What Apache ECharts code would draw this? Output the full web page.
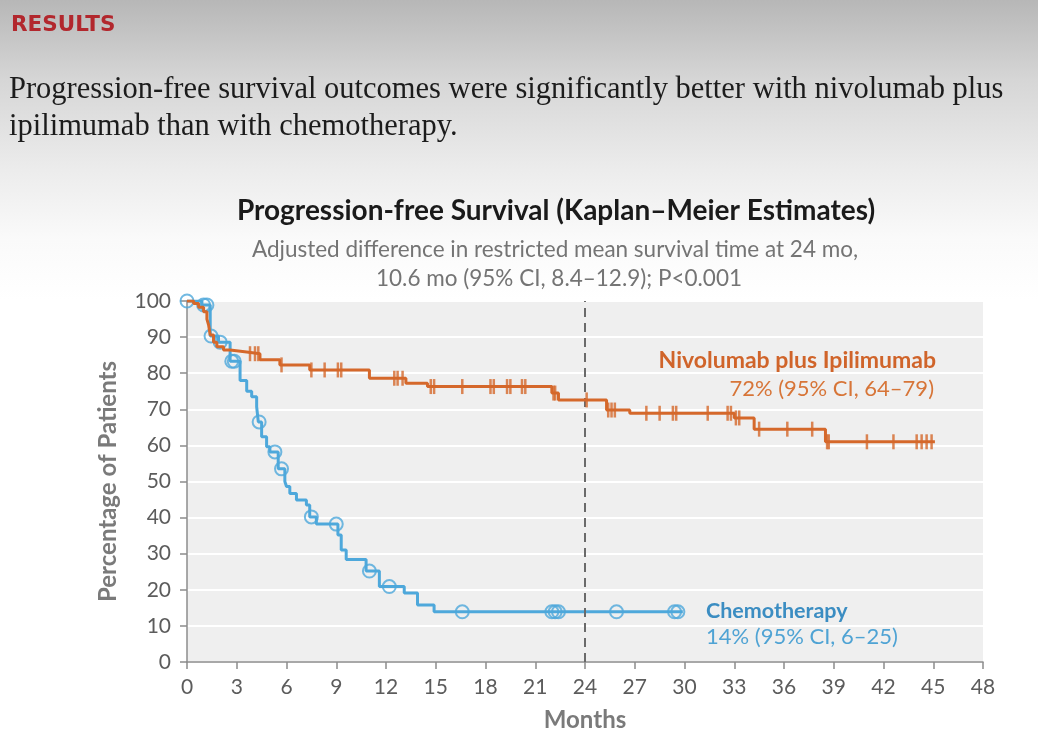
<!DOCTYPE html>
<html>
<head>
<meta charset="utf-8">
<title>Progression-free Survival</title>
<script src="https://cdn.jsdelivr.net/npm/echarts@6/dist/echarts.min.js"></script>
<style>
  html, body { margin: 0; padding: 0; }
  body {
    width: 1038px; height: 739px; overflow: hidden;
    background: linear-gradient(to bottom, #b7b7b7 0px, #d6d6d6 80px, #ececec 170px, #fafafa 240px, #ffffff 300px);
  }
  #main { width: 1038px; height: 739px; }
</style>
</head>
<body>
<div id="main"></div>
<script>
  // months vs percentage
  var nivoTimes = [0, 0.4, 0.7, 1.0, 1.2, 1.3, 1.4, 1.6, 1.8, 2.2, 2.6, 3.6, 4.4, 5.6, 7.4, 11.0, 13.2, 14.5, 22.0, 22.4, 25.3, 26.7, 33.0, 34.2, 38.5, 45.1];
  var nivoSurv  = [100, 99.3, 98.3, 97.0, 95.0, 93.4, 90.6, 88.6, 87.3, 86.4, 85.9, 85.4, 83.7, 82.3, 80.9, 78.6, 77.2, 76.3, 74.5, 72.6, 69.8, 68.9, 67.6, 64.5, 61.0, 61.0];
  var nivoCensor = [3.8, 4.1, 4.3, 5.7, 7.5, 8.3, 9.1, 9.3, 12.5, 12.7, 13.0, 14.7, 14.9, 16.6, 18.3, 18.5, 19.3, 19.5, 20.2, 20.4, 22.1, 22.2,
                    24.1, 25.4, 25.6, 25.8, 27.7, 28.5, 29.3, 29.5, 31.4, 32.6, 32.8, 33.1, 33.3, 34.5, 36.2, 37.7, 38.6, 38.7,
                    41.0, 42.6, 44.0, 44.3, 44.6, 44.9];

  var chemoTimes = [0, 0.9, 1.4, 1.9, 2.6, 3.2, 3.6, 3.9, 4.2, 4.3, 4.5, 4.8, 5.0, 5.5, 5.9, 6.0, 6.2, 6.6, 7.2, 7.4, 7.8, 9.1, 9.3, 9.6, 10.8, 11.6, 13.1, 13.9, 14.9, 29.9];
  var chemoSurv  = [100, 98.9, 90.3, 88.6, 83.3, 78.0, 75.0, 73.5, 70.7, 66.5, 62.4, 59.6, 58.2, 53.5, 50.0, 48.6, 46.7, 44.9, 43.5, 40.2, 38.2, 35.2, 31.0, 28.4, 25.2, 20.9, 19.1, 15.8, 13.9, 13.9];
  var chemoCensor = [0, 1.0, 1.2, 1.45, 2.0, 2.7, 2.85, 4.35, 5.3, 5.7, 7.5, 9.0, 11.0, 12.2, 16.6, 22.0, 22.2, 22.4, 25.9, 29.4, 29.6];

  var orange = '#d5682b';
  var blue = '#4ea8db';
  var sans = 'Lato, "Open Sans", sans-serif';

  function pairs(ts, vs) {
    var out = [];
    for (var i = 0; i < ts.length; i++) out.push([ts[i], vs[i]]);
    return out;
  }
  // value of the step curve at time t
  function stepAt(ts, vs, t) {
    var v = vs[0];
    for (var i = 0; i < ts.length; i++) { if (ts[i] <= t) v = vs[i]; }
    return v;
  }
  function censorPts(ts, vs, cs) {
    return cs.map(function (t) { return [t, stepAt(ts, vs, t)]; });
  }

  var myChart = echarts.init(document.getElementById('main'));

  var option = {
    animation: false,
    backgroundColor: 'transparent',
    grid: {
      left: 187, right: 55, top: 301, bottom: 77,
      show: true, backgroundColor: '#efefef', borderWidth: 0
    },
    xAxis: {
      type: 'value', min: 0, max: 48, interval: 3,
      name: 'Months', nameLocation: 'middle', nameGap: 46,
      nameTextStyle: { color: '#7a7a7a', fontSize: 24, fontWeight: 'bold', fontFamily: sans },
      axisLine: { show: true, lineStyle: { color: '#8c8c8c', width: 1.5 } },
      axisTick: { show: true, length: 7, lineStyle: { color: '#8c8c8c', width: 1.5 } },
      axisLabel: { color: '#5c5c5c', fontSize: 21, margin: 15, fontFamily: sans },
      splitLine: { show: false }
    },
    yAxis: {
      type: 'value', min: 0, max: 100, interval: 10,
      name: 'Percentage of Patients', nameLocation: 'middle', nameGap: 67,
      nameTextStyle: { color: '#7a7a7a', fontSize: 24, fontWeight: 'bold', fontFamily: sans },
      axisLine: { show: true, lineStyle: { color: '#8c8c8c', width: 1.5 } },
      axisTick: { show: true, length: 7, lineStyle: { color: '#8c8c8c', width: 1.5 } },
      axisLabel: { color: '#5c5c5c', fontSize: 21, margin: 16, fontFamily: sans },
      splitLine: { show: true, lineStyle: { color: '#ffffff', width: 2 } }
    },
    graphic: [
      { type: 'text', x: 11, y: 25, style: { text: 'RESULTS', fill: '#b2272d', fontSize: 21.5, fontWeight: 'bold', fontFamily: '"DejaVu Sans", sans-serif', verticalAlign: 'middle' } },
      { type: 'text', x: 9, y: 90, style: { text: 'Progression-free survival outcomes were significantly better with nivolumab plus', fill: '#1c1c1c', fontSize: 30.5, fontFamily: '"Liberation Serif", serif', verticalAlign: 'middle' } },
      { type: 'text', x: 9, y: 127, style: { text: 'ipilimumab than with chemotherapy.', fill: '#1c1c1c', fontSize: 30.5, fontFamily: '"Liberation Serif", serif', verticalAlign: 'middle' } },
      { type: 'text', x: 556, y: 211, style: { text: 'Progression-free Survival (Kaplan\u2013Meier Estimates)', fill: '#1a1a1a', fontSize: 28, fontWeight: 'bold', fontFamily: sans, align: 'center', verticalAlign: 'middle' } },
      { type: 'text', x: 555, y: 250, style: { text: 'Adjusted difference in restricted mean survival time at 24 mo,', fill: '#747474', fontSize: 22.5, fontFamily: sans, align: 'center', verticalAlign: 'middle' } },
      { type: 'text', x: 559, y: 279, style: { text: '10.6 mo (95% CI, 8.4\u201312.9); P<0.001', fill: '#747474', fontSize: 22.5, fontFamily: sans, align: 'center', verticalAlign: 'middle' } },
      { type: 'text', x: 936, y: 361, z: 10, style: { text: 'Nivolumab plus Ipilimumab', fill: '#d0642a', fontSize: 23, fontWeight: 'bold', fontFamily: sans, align: 'right', verticalAlign: 'middle' } },
      { type: 'text', x: 934, y: 389, z: 10, style: { text: '72% (95% CI, 64\u201379)', fill: '#d77538', fontSize: 22, fontFamily: sans, align: 'right', verticalAlign: 'middle' } },
      { type: 'text', x: 706, y: 611, z: 10, style: { text: 'Chemotherapy', fill: '#3b8dc2', fontSize: 21.5, fontWeight: 'bold', fontFamily: sans, verticalAlign: 'middle' } },
      { type: 'text', x: 706, y: 637, z: 10, style: { text: '14% (95% CI, 6\u201325)', fill: '#4fa3d4', fontSize: 22, fontFamily: sans, verticalAlign: 'middle' } }
    ],
    series: [
      {
        name: 'Chemotherapy', type: 'line', step: 'end', z: 3,
        data: pairs(chemoTimes, chemoSurv),
        showSymbol: false,
        lineStyle: { color: blue, width: 3 }
      },
      {
        name: 'Chemotherapy censored', type: 'scatter', z: 4,
        data: censorPts(chemoTimes, chemoSurv, chemoCensor),
        symbol: 'circle', symbolSize: 13,
        itemStyle: { color: 'rgba(0,0,0,0)', borderColor: blue, borderWidth: 2 }
      },
      {
        name: 'Nivolumab plus Ipilimumab', type: 'line', step: 'end', z: 5,
        data: pairs(nivoTimes, nivoSurv),
        showSymbol: false,
        lineStyle: { color: orange, width: 3 },
        markLine: {
          silent: true, symbol: 'none', label: { show: false },
          lineStyle: { color: '#6a6a6a', width: 2, type: [9, 6] },
          data: [{ xAxis: 24 }]
        }
      },
      {
        name: 'Nivolumab censored', type: 'scatter', z: 6,
        data: censorPts(nivoTimes, nivoSurv, nivoCensor),
        symbol: 'rect', symbolSize: [2.5, 15],
        itemStyle: { color: orange }
      }
    ]
  };
  myChart.setOption(option);
</script>
</body>
</html>
